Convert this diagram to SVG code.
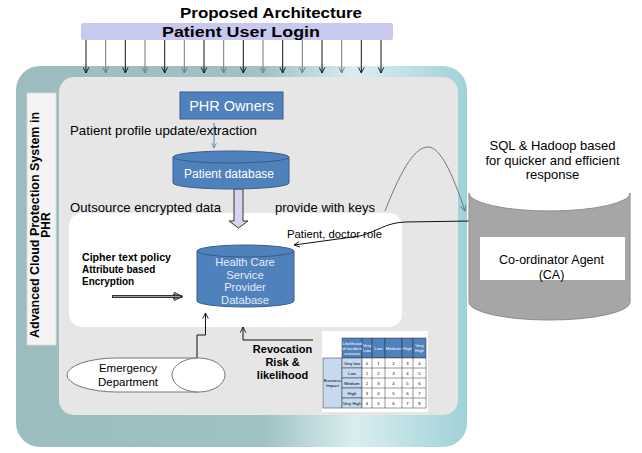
<svg xmlns="http://www.w3.org/2000/svg" width="642" height="453" viewBox="0 0 642 453">
<defs>
<linearGradient id="teal" x1="0" y1="0" x2="1" y2="0">
<stop offset="0" stop-color="#9bbdc0"/>
<stop offset="0.55" stop-color="#a0c2c5"/>
<stop offset="0.75" stop-color="#d9eef0"/>
<stop offset="1" stop-color="#9fd2d8"/>
</linearGradient>
<marker id="ak" viewBox="0 0 10 10" refX="9" refY="5" markerWidth="7" markerHeight="7" orient="auto" markerUnits="userSpaceOnUse"><path d="M1,1 L9,5 L1,9" fill="none" stroke="#111" stroke-width="1.3"/></marker>
<marker id="ag" viewBox="0 0 10 10" refX="9" refY="5" markerWidth="7" markerHeight="7" orient="auto" markerUnits="userSpaceOnUse"><path d="M1,1 L9,5 L1,9" fill="none" stroke="#777" stroke-width="1.3"/></marker>
<marker id="ab" viewBox="0 0 10 10" refX="9" refY="5" markerWidth="6" markerHeight="6" orient="auto" markerUnits="userSpaceOnUse"><path d="M1,1 L9,5 L1,9" fill="none" stroke="#4f81bd" stroke-width="1.3"/></marker>
<marker id="ad" viewBox="0 0 10 10" refX="9" refY="5" markerWidth="10" markerHeight="10" orient="auto" markerUnits="userSpaceOnUse"><path d="M1,1 L9,5 L1,9 M-1,2 L5,5 L-1,8" fill="none" stroke="#333" stroke-width="1.3"/></marker>
</defs>
<style>
text{font-family:"Liberation Sans",Arial,sans-serif;}
.b{font-weight:bold;}
.blue{fill:#4f81bd;stroke:#385d8a;stroke-width:1;}
.ln{fill:none;stroke:#111;stroke-width:1;}
.lg{fill:none;stroke:#777;stroke-width:1;}
.tb{font-family:"Liberation Serif","Times New Roman",serif;font-size:4.3px;}
.hd{fill:#4f81bd;stroke:#333;stroke-width:0.5;}
.lb{fill:#c6d9f1;stroke:#333;stroke-width:0.5;}
</style>

<rect x="0" y="0" width="642" height="453" fill="#fff"/>

<g id="title">
<text x="180" y="17.5" class="b" font-size="14.5" textLength="182" lengthAdjust="spacingAndGlyphs">Proposed Architecture</text>
</g>

<g id="login">
<rect x="81" y="23" width="312" height="17" rx="2" fill="#c9c9ef"/>
<text x="162" y="37" class="b" font-size="14.5" textLength="158" lengthAdjust="spacingAndGlyphs">Patient User Login</text>
</g>

<g id="system">
<rect x="16" y="66" width="451" height="381" rx="24" fill="url(#teal)"/>
<rect x="59" y="77" width="399" height="338" rx="15" fill="#e6e6e6"/>
<rect x="27" y="93" width="29" height="252" fill="#f4f4f4" stroke="#dadada" stroke-width="0.8"/>
<text transform="translate(38.5,225) rotate(-90)" text-anchor="middle" class="b" font-size="12" textLength="226" lengthAdjust="spacingAndGlyphs">Advanced Cloud Protection System in</text>
<text transform="translate(50,225) rotate(-90)" text-anchor="middle" class="b" font-size="12">PHR</text>
<rect x="69" y="213" width="333" height="114" rx="13" fill="#fff"/>
</g>

<g id="connectors">
<g id="login-arrows">
<line x1="86" y1="40" x2="86" y2="73" class="ln" marker-end="url(#ak)"/>
<line x1="105.7" y1="40" x2="105.7" y2="73" class="lg" marker-end="url(#ag)"/>
<line x1="125.3" y1="40" x2="125.3" y2="73" class="ln" marker-end="url(#ak)"/>
<line x1="145" y1="40" x2="145" y2="73" class="lg" marker-end="url(#ag)"/>
<line x1="164.7" y1="40" x2="164.7" y2="73" class="ln" marker-end="url(#ak)"/>
<line x1="184.3" y1="40" x2="184.3" y2="73" class="lg" marker-end="url(#ag)"/>
<line x1="204" y1="40" x2="204" y2="73" class="ln" marker-end="url(#ak)"/>
<line x1="223.7" y1="40" x2="223.7" y2="73" class="lg" marker-end="url(#ag)"/>
<line x1="243.3" y1="40" x2="243.3" y2="73" class="ln" marker-end="url(#ak)"/>
<line x1="263" y1="40" x2="263" y2="73" class="lg" marker-end="url(#ag)"/>
<line x1="282.7" y1="40" x2="282.7" y2="73" class="ln" marker-end="url(#ak)"/>
<line x1="302.3" y1="40" x2="302.3" y2="73" class="lg" marker-end="url(#ag)"/>
<line x1="322" y1="40" x2="322" y2="73" class="ln" marker-end="url(#ak)"/>
<line x1="341.7" y1="40" x2="341.7" y2="73" class="lg" marker-end="url(#ag)"/>
<line x1="361.3" y1="40" x2="361.3" y2="73" class="ln" marker-end="url(#ak)"/>
<line x1="381" y1="40" x2="381" y2="73" class="ln" marker-end="url(#ak)"/>
</g>
<line x1="214" y1="123" x2="214" y2="148" fill="none" stroke="#4f81bd" stroke-width="1" marker-end="url(#ab)"/>
<path d="M234,189 H243 V221 H248 L238.5,228 L229,221 H234 Z" fill="#d5d5f2" stroke="#333" stroke-width="1"/>
<path d="M385,211 C403,165 416,147 428,147 C440,147 452,172 465,211" class="lg" marker-end="url(#ag)"/>
<path d="M470,221 L405,222 C385,223 378,231 360,236 L294,245" class="ln" marker-end="url(#ak)"/>
<path d="M112,296.5 H182" fill="none" stroke="#333" stroke-width="3.2" marker-end="url(#ad)"/>
<path d="M113,296.5 H180" fill="none" stroke="#aaa" stroke-width="0.9"/>
<path d="M197,358 V335 H205.5 V313" class="ln" marker-end="url(#ak)"/>
<path d="M313,340 H243 V327" class="ln" marker-end="url(#ak)"/>
</g>

<g id="phr-owners">
<rect x="180" y="92" width="103" height="27" class="blue"/>
<text x="231.5" y="110.5" text-anchor="middle" font-size="14.5" fill="#fff">PHR Owners</text>
</g>

<g id="labels">
<text x="70" y="134.5" font-size="13" textLength="187" lengthAdjust="spacingAndGlyphs">Patient profile update/extraction</text>
<text x="70" y="211.5" font-size="13" textLength="151" lengthAdjust="spacingAndGlyphs">Outsource encrypted data</text>
<text x="275" y="211.5" font-size="13" textLength="100" lengthAdjust="spacingAndGlyphs">provide with keys</text>
<text x="287" y="238" font-size="11" textLength="95" lengthAdjust="spacingAndGlyphs">Patient, doctor role</text>
</g>

<g id="patient-db">
<path d="M173,157 V183 A58,6 0 0 0 289,183 V157" class="blue"/>
<ellipse cx="231" cy="157" rx="58" ry="6" class="blue"/>
<text x="229" y="178" text-anchor="middle" font-size="12" fill="#fff">Patient database</text>
</g>

<g id="hcsp-db">
<path d="M197,251 V301 A48.5,6 0 0 0 294,301 V251" class="blue"/>
<ellipse cx="245.5" cy="251" rx="48.5" ry="6" class="blue"/>
<g font-size="11.2" fill="#e4ecf7" text-anchor="middle">
<text x="245" y="266">Health Care</text>
<text x="245" y="278.5">Service</text>
<text x="245" y="291">Provider</text>
<text x="245" y="303.5">Database</text>
</g>
</g>

<g id="cpabe">
<g class="b" font-size="10">
<text x="82" y="261" textLength="89" lengthAdjust="spacingAndGlyphs">Cipher text  policy</text>
<text x="82" y="273">Attribute based</text>
<text x="82" y="285">Encryption</text>
</g>
</g>

<g id="emergency">
<path d="M198.5,358 H117 A50,17 0 0 0 117,392 H198.5" fill="#fff" stroke="#777" stroke-width="1"/>
<ellipse cx="198.5" cy="375" rx="26.5" ry="17" fill="#fff" stroke="#777" stroke-width="1"/>
<text x="128" y="372" text-anchor="middle" font-size="11.5">Emergency</text>
<text x="128" y="386" text-anchor="middle" font-size="11.5">Department</text>
</g>

<g id="revocation">
<g class="b" font-size="11" text-anchor="middle">
<text x="282.5" y="353">Revocation</text>
<text x="282.5" y="366">Risk &amp;</text>
<text x="282.5" y="379">likelihood</text>
</g>
</g>

<g id="risk-table">
<rect x="322" y="331" width="106" height="81" fill="#fff"/>
<rect x="342" y="338" width="20" height="20" class="hd"/>
<rect x="362" y="338" width="10" height="20" class="hd"/>
<rect x="372" y="338" width="13" height="20" class="hd"/>
<rect x="385" y="338" width="17" height="20" class="hd"/>
<rect x="402" y="338" width="11" height="20" class="hd"/>
<rect x="413" y="338" width="13" height="20" class="hd"/>
<rect x="323" y="358" width="19" height="50" class="lb"/>
<g fill="#fff" class="tb" text-anchor="middle">
<text x="352" y="345">Likelihood</text>
<text x="352" y="350">of incident</text>
<text x="352" y="355">scenario</text>
<text x="367" y="347">Very</text>
<text x="367" y="352">Low</text>
<text x="378.5" y="349.5">Low</text>
<text x="393.5" y="349.5">Medium</text>
<text x="407.5" y="349.5">High</text>
<text x="419.5" y="347">Very</text>
<text x="419.5" y="352">High</text>
</g>
<g class="tb" text-anchor="middle">
<text x="332.5" y="382">Business</text>
<text x="332.5" y="386.5">Impact</text>
</g>
<g id="rows">
<rect x="342" y="358" width="20" height="10" class="lb"/>
<rect x="342" y="368" width="20" height="10" class="lb"/>
<rect x="342" y="378" width="20" height="10" class="lb"/>
<rect x="342" y="388" width="20" height="10" class="lb"/>
<rect x="342" y="398" width="20" height="10" class="lb"/>
<g fill="#fff" stroke="#333" stroke-width="0.5">
<rect x="362" y="358" width="64" height="50"/>
<path d="M362,368 H426 M362,378 H426 M362,388 H426 M362,398 H426 M372,358 V408 M385,358 V408 M402,358 V408 M413,358 V408" fill="none"/>
</g>
<g class="tb" text-anchor="middle">
<text x="352" y="364.5">Very low</text>
<text x="352" y="374.5">Low</text>
<text x="352" y="384.5">Medium</text>
<text x="352" y="394.5">High</text>
<text x="352" y="404.5">Very High</text>
<text x="367" y="364.5">0</text><text x="378.5" y="364.5">1</text><text x="393.5" y="364.5">2</text><text x="407.5" y="364.5">3</text><text x="419.5" y="364.5">4</text>
<text x="367" y="374.5">1</text><text x="378.5" y="374.5">2</text><text x="393.5" y="374.5">3</text><text x="407.5" y="374.5">4</text><text x="419.5" y="374.5">5</text>
<text x="367" y="384.5">2</text><text x="378.5" y="384.5">3</text><text x="393.5" y="384.5">4</text><text x="407.5" y="384.5">5</text><text x="419.5" y="384.5">6</text>
<text x="367" y="394.5">3</text><text x="378.5" y="394.5">4</text><text x="393.5" y="394.5">5</text><text x="407.5" y="394.5">6</text><text x="419.5" y="394.5">7</text>
<text x="367" y="404.5">4</text><text x="378.5" y="404.5">5</text><text x="393.5" y="404.5">6</text><text x="407.5" y="404.5">7</text><text x="419.5" y="404.5">8</text>
</g>
</g>
</g>

<g id="coordinator-agent">
<path d="M469,193 A80.5,18 0 0 0 630,193 V302 A80.5,18 0 0 1 469,302 Z" fill="#a6a6a6" stroke="#8c8c8c" stroke-width="1"/>
<rect x="480" y="237" width="145" height="43" fill="#fff"/>
<text x="551.5" y="264" text-anchor="middle" font-size="12.5">Co-ordinator Agent</text>
<text x="551.5" y="278.5" text-anchor="middle" font-size="12.5">(CA)</text>
</g>

<g id="sql-note">
<g font-size="13" text-anchor="middle">
<text x="552.5" y="150">SQL &amp; Hadoop based</text>
<text x="552.5" y="164.5">for quicker and efficient</text>
<text x="552.5" y="179">response</text>
</g>
</g>
</svg>
